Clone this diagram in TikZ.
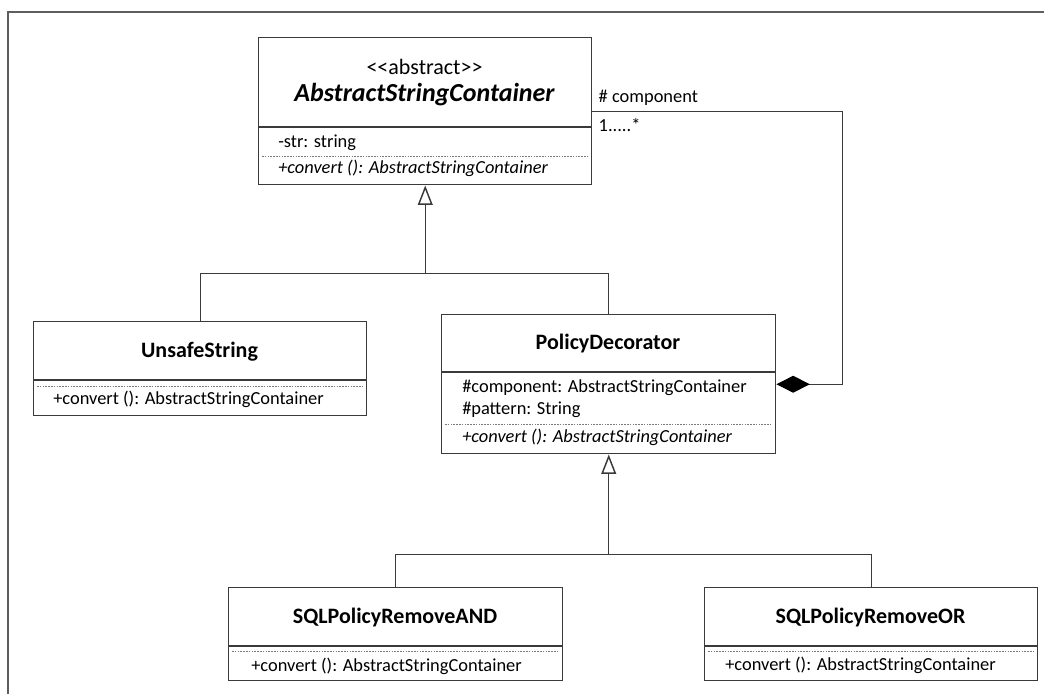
\documentclass[tikz,border=0pt]{standalone}
\usepackage{fontspec}
\setmainfont{Carlito}
\usetikzlibrary{arrows.meta,calc}
\definecolor{umlline}{HTML}{3A3A3A}
\definecolor{framegray}{HTML}{5E5E5E}
\definecolor{sepgray}{HTML}{7A7A7A}
\begin{document}
\begin{tikzpicture}[x=0.75pt,y=-0.75pt,
  classbox/.style={draw=umlline, line width=1.1pt, fill=white, anchor=north west, inner sep=0pt},
  divider/.style={draw=umlline, line width=1.6pt},
  opsep/.style={draw=sepgray, line width=0.6pt, dash pattern=on 1.2pt off 0.9pt},
  member/.style={anchor=west, inner sep=0pt, font=\fontsize{13.8}{16}\selectfont},
  opmember/.style={anchor=west, inner sep=0pt, font=\fontsize{13.8}{16}\selectfont\itshape},
  classname/.style={inner sep=0pt, font=\fontsize{16.5}{19}\selectfont\bfseries},
  link/.style={draw=umlline, line width=1.1pt},
  generalization/.style={link, -{Triangle[open, length=14.5pt, width=11pt, fill=white]}},
  composition/.style={link, {Diamond[length=25pt, width=12.75pt, fill=black, color=black]}-},
  rolelabel/.style={anchor=west, inner sep=0pt, font=\fontsize{13.8}{16}\selectfont}
]
\useasboundingbox (0,0) rectangle (1044,694);

% partial page frame
\draw[framegray, line width=1.5pt] (8,694) -- (8,11.5) -- (1044,11.5);

% ---- AbstractStringContainer ----
\node[classbox, minimum width=249.75pt, minimum height=110.25pt] (asc) at (258,37) {};
\node[inner sep=0pt, font=\fontsize{16.5}{19}\selectfont] (ascstereo) at (424.5,67)
  {\textless\kern0pt\textless\kern0pt abstract\textgreater\kern0pt\textgreater};
\node[inner sep=0pt, font=\fontsize{19.5}{22}\selectfont\bfseries\itshape] (ascname) at (424.5,94.5)
  {AbstractStringContainer};
\draw[divider] ($(asc.north west)+(0,90)$) -- ($(asc.north east)+(0,90)$);
\node[member] (ascattr) at (278,142.5) {-str: string};
\draw[opsep] ($(asc.north west)+(4,119)$) -- ($(asc.north east)+(-4,119)$);
\node[opmember] (ascop) at (278,168) {+convert (): AbstractStringContainer};

% ---- UnsafeString ----
\node[classbox, minimum width=249.75pt, minimum height=70.5pt] (unsafe) at (33,321) {};
\node[classname] (unsafename) at (199.5,351.5) {UnsafeString};
\draw[divider] ($(unsafe.north west)+(0,59)$) -- ($(unsafe.north east)+(0,59)$);
\draw[opsep] ($(unsafe.north west)+(4,65)$) -- ($(unsafe.north east)+(-4,65)$);
\node[member] (unsafeop) at (53,399) {+convert (): AbstractStringContainer};

% ---- PolicyDecorator ----
\node[classbox, minimum width=250.5pt, minimum height=104.25pt] (policy) at (441,314) {};
\node[classname] (policyname) at (608,343) {PolicyDecorator};
\draw[divider] ($(policy.north west)+(0,58)$) -- ($(policy.north east)+(0,58)$);
\node[member] (policyattra) at (462,388) {\#component: AbstractStringContainer};
\node[member] (policyattrb) at (462,409.5) {\#pattern: String};
\draw[opsep] ($(policy.north west)+(4,110)$) -- ($(policy.north east)+(-4,110)$);
\node[opmember] (policyop) at (462,437) {+convert (): AbstractStringContainer};

% ---- SQLPolicyRemoveAND ----
\node[classbox, minimum width=250.5pt, minimum height=69.75pt] (sqland) at (228,587) {};
\node[classname] (sqlandname) at (395,617) {SQLPolicyRemoveAND};
\draw[divider] ($(sqland.north west)+(0,59)$) -- ($(sqland.north east)+(0,59)$);
\draw[opsep] ($(sqland.north west)+(4,64.5)$) -- ($(sqland.north east)+(-4,64.5)$);
\node[member] (sqlandop) at (251,666) {+convert (): AbstractStringContainer};

% ---- SQLPolicyRemoveOR ----
\node[classbox, minimum width=249.75pt, minimum height=69.75pt] (sqlor) at (704,587) {};
\node[classname] (sqlorname) at (870.5,617) {SQLPolicyRemoveOR};
\draw[divider] ($(sqlor.north west)+(0,59)$) -- ($(sqlor.north east)+(0,59)$);
\draw[opsep] ($(sqlor.north west)+(4,64.5)$) -- ($(sqlor.north east)+(-4,64.5)$);
\node[member] (sqlorop) at (725,665.5) {+convert (): AbstractStringContainer};

% ---- generalizations ----
\draw[generalization] (unsafe.north) |- ($(asc.south)+(0,88)$) -- (asc.south);
\draw[link] (policy.north) |- ($(asc.south)+(0,88)$);
\draw[generalization] (sqland.north) |- ($(policy.south)+(0,100)$) -- (policy.south);
\draw[link] (sqlor.north) |- ($(policy.south)+(0,100)$);

% ---- composition ----
\draw[composition] (policy.east) -- ++(66,0) |- (asc.east);
\node[rolelabel] (rolename) at ($(asc.east)+(6,-13)$) {\# component};
\node[rolelabel] (rolemult) at ($(asc.east)+(6,14)$) {1.....*};
\end{tikzpicture}
\end{document}
